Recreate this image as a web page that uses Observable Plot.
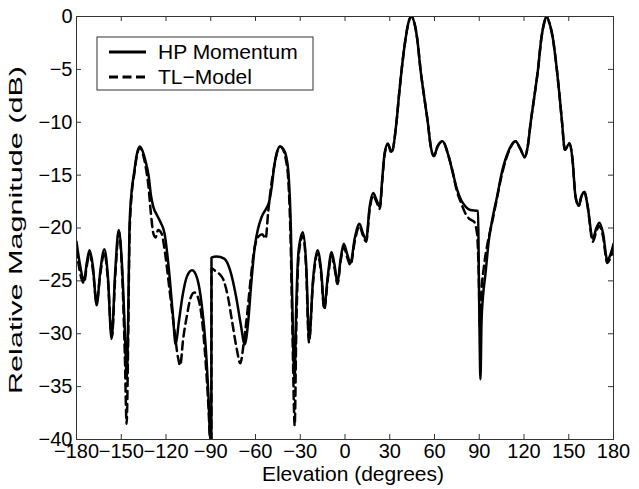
<!DOCTYPE html>
<html><head><meta charset="utf-8">
<script src="https://cdn.jsdelivr.net/npm/d3@7"></script>
<script src="https://cdn.jsdelivr.net/npm/@observablehq/plot@0.6"></script>
<style>body{margin:0;background:#fff}</style>
</head><body><div id="chart"></div>
<script>
const seriesNames = ["HP Momentum", "TL\u2212Model"];
const xLabel = "Elevation (degrees)";
const yLabel = "Relative Magnitude (dB)";
const xTicks = [-180, -150, -120, -90, -60, -30, 0, 30, 60, 90, 120, 150, 180];
const yTicks = [-40, -35, -30, -25, -20, -15, -10, -5, 0];

// HP Momentum (solid)
const hpDeg = [-180,-177.5,-175,-173,-171.3,-169,-166.5,-164,-161.3,-159,-156.5,-154,-151.7,-149.5,-147.5,-146.3,-145.3,-144.5,-143,-141.6,-139.5,-137.5,-135.5,-133.5,-131.7,-130,-128.5,-126,-123.5,-121,-118,-115.5,-113.5,-111.5,-109,-106,-102.5,-99,-96,-93.5,-91.5,-90.3,-89.6,-89.5,-86,-81,-77,-73,-70,-67.2,-65,-63,-60.5,-58.5,-56,-53,-51,-49,-47.5,-45.5,-43.5,-41.5,-39.5,-37.8,-36.3,-35.2,-33.8,-32.8,-31,-28.2,-26,-24,-21.5,-18.4,-16,-13.9,-11.5,-9,-7,-5,-3,-0.8,1.5,3.7,6.5,9.7,12,14.2,16.5,18.9,21,23.3,25,26.5,28.7,31.2,34.5,36.3,38,40.5,42.5,44.5,46.5,48.5,50.6,53,55.5,57.5,59.6,62,65.5,69,72,75,78,81,84,89.2,89.7,90.3,90.8,91.5,92.5,94.2,96.4,99,102,105.4,110,114.3,117.5,120.5,122.5,124.5,127,129.4,131.5,133.5,135,137,139.5,142,143.7,145.5,147.4,150.5,152.5,154.5,156.7,158.5,160.6,162.5,166.2,168.5,170.6,173,175.8,178,180];
const hpDb = [-21.3,-23.6,-25.0,-23.2,-22.1,-23.6,-27.3,-24.0,-22.0,-24.5,-30.5,-24.0,-20.2,-23.5,-30.0,-34.1,-28,-20,-16.5,-15,-13,-12.3,-12.8,-13.8,-15,-17,-18.0,-18.8,-19.5,-20.5,-24,-28,-31.0,-29,-26.5,-24.6,-24.0,-24.8,-27.3,-31,-36,-40,-40,-22.8,-22.7,-22.9,-24.0,-26.5,-29.0,-31.0,-29,-25.5,-21.8,-20.2,-19,-18.2,-17.6,-16.0,-14.2,-12.8,-12.3,-12.5,-13.2,-15,-20,-28,-34.4,-28,-22,-20.4,-23.5,-30.6,-25,-22.1,-24,-27.5,-24.5,-22.3,-23.5,-25.2,-23,-21.5,-22.5,-23.3,-21.0,-19.6,-20.5,-21.1,-18.0,-16.7,-17.3,-18.0,-15.3,-13.0,-12.0,-12.8,-10,-7.3,-5,-2.2,-0.6,0,-0.6,-2.2,-5,-7.5,-10,-12.3,-13.2,-12.3,-11.8,-13.0,-14.6,-16.3,-17.4,-18.0,-18.3,-18.4,-24,-31,-34.3,-29,-26.5,-24.3,-21.2,-19.0,-17,-14.6,-12.6,-11.8,-12.5,-13.3,-12.3,-10,-7.5,-5,-2.2,-0.6,0,-0.6,-2.2,-5,-7.3,-10,-12.6,-12.0,-13.5,-17.0,-17.9,-17.0,-16.6,-17.8,-21.0,-20.0,-19.5,-20.5,-23.0,-22.5,-21.5];

// TL-Model (dashed)
const tlDeg = [-180,-177.5,-175,-173,-171.3,-169,-166.5,-164,-161.3,-159,-156.3,-154,-151.6,-149.5,-147.6,-146.4,-145.3,-144.5,-143,-141.4,-139.3,-137.4,-135.5,-133.5,-131.8,-130.2,-128.5,-127,-125.3,-123,-120.5,-117.5,-114.5,-112,-110.5,-108.5,-106,-103.5,-101,-98.5,-96,-93.5,-91.5,-90.4,-89.6,-89.5,-87.5,-84.5,-81.5,-78.5,-75.5,-72.5,-70.2,-68,-65.5,-63,-60.5,-58,-55.5,-53.2,-51.5,-49.5,-47.5,-45.5,-43.5,-41.5,-39.7,-38,-36.5,-35.2,-33.7,-32.7,-31,-28.2,-26,-24.2,-21.5,-18.4,-16,-13.9,-11.5,-9,-7,-5,-3,-0.8,1.5,3.7,6.5,9.7,12,14.2,16.5,18.9,21,23.3,25,26.5,28.7,31.2,34.5,36.3,38,40.5,42.5,44.5,46.5,48.5,50.6,53,55.5,57.5,59.6,62,65.5,69,72,75,78,81,84,86.5,88.5,89.6,90.5,91.5,93,95.5,98.4,101,105.4,110,114.3,117.5,120.5,122.5,124.5,127,129.4,131.5,133.5,135,137,139.5,142,143.7,145.5,147.4,150.5,152.5,154.5,156.7,158.5,160.6,162.5,166.2,168.5,170.6,173,175.8,178,180];
const tlDb = [-22.0,-24.3,-25.2,-23.5,-22.4,-24.0,-27.0,-24.3,-22.3,-24.8,-30.3,-24.5,-20.4,-24.0,-32,-38.5,-30,-21,-16.8,-15,-13,-12.4,-13,-14.3,-16,-18.5,-20.5,-20.9,-20.2,-20.5,-22.5,-26,-29.5,-32.2,-33.0,-30.5,-28.3,-26.6,-26.1,-26.6,-28.5,-32.5,-37,-40,-40,-23.8,-24.0,-24.3,-24.9,-26.5,-29,-31.5,-32.8,-31,-28,-24.5,-21.8,-20.8,-20.6,-21.0,-18.5,-16.0,-14.2,-12.8,-12.3,-12.6,-13.5,-15.5,-21,-30,-38.7,-30,-22.5,-20.7,-24,-30.8,-25.3,-22.4,-24.3,-27.7,-24.8,-22.6,-23.8,-25.3,-23.2,-21.8,-22.8,-23.5,-21.3,-19.8,-20.7,-21.3,-18.3,-16.9,-17.5,-18.2,-15.5,-13.1,-12.1,-12.9,-10,-7.3,-5,-2.2,-0.6,0,-0.6,-2.2,-5,-7.5,-10,-12.3,-13.2,-12.3,-11.8,-13.0,-14.6,-16.5,-17.7,-18.7,-19.2,-19.4,-20.5,-24,-29.5,-26,-23.8,-21.5,-19.6,-17.8,-14.8,-12.7,-11.8,-12.5,-13.3,-12.3,-10,-7.5,-5,-2.2,-0.6,0,-0.6,-2.2,-5,-7.3,-10,-12.6,-12.0,-13.5,-17.0,-17.9,-17.0,-16.6,-17.8,-21.3,-20.3,-19.8,-20.8,-23.3,-22.8,-22.0];

const hp = hpDeg.map((x, i) => ({x, y: hpDb[i]}));
const tl = tlDeg.map((x, i) => ({x, y: tlDb[i]}));

const W = 639, H = 489, mL = 76, mR = 26, mT = 16, mB = 50;
const frameW = W - mL - mR, frameH = H - mT - mB, tickLen = 5;
const font = "'Liberation Sans', Arial, Helvetica, sans-serif";

const svg = Plot.plot({
  width: W, height: H,
  marginLeft: mL, marginRight: mR, marginTop: mT, marginBottom: mB,
  style: {fontFamily: font, fontSize: "20px", background: "#fff", color: "#000", overflow: "visible"},
  x: {domain: [-180, 180], label: null},
  y: {domain: [-40, 0], label: null},
  marks: [
    Plot.axisX(xTicks, {anchor: "bottom", tickSize: 0, tickPadding: 4, label: null, fontSize: 20}),
    Plot.axisY(yTicks, {anchor: "left", tickSize: 0, tickPadding: 4, label: null, fontSize: 20}),
    // inward ticks on all four sides
    Plot.tickX(xTicks, {x: d => d, insetTop: frameH - tickLen, stroke: "#333"}),
    Plot.tickX(xTicks, {x: d => d, insetBottom: frameH - tickLen, stroke: "#333"}),
    Plot.tickY(yTicks, {y: d => d, insetRight: frameW - tickLen, stroke: "#333"}),
    Plot.tickY(yTicks, {y: d => d, insetLeft: frameW - tickLen, stroke: "#333"}),
    Plot.line(tl, {x: "x", y: "y", curve: "monotone-x", stroke: "#000", strokeWidth: 2.5, strokeDasharray: "8,5", clip: true}),
    Plot.line(hp, {x: "x", y: "y", curve: "monotone-x", stroke: "#000", strokeWidth: 2.5, clip: true}),
    Plot.frame({stroke: "#333", strokeWidth: 1})
  ]
});

const s = d3.select(svg);
// axis titles
s.append("text").attr("x", 353).attr("y", 481).attr("text-anchor", "middle")
  .style("font-family", font).style("font-size", "21px").attr("fill", "#000").text(xLabel);
s.append("text").attr("transform", "translate(22,230) rotate(-90)").attr("text-anchor", "middle")
  .attr("textLength", 328).attr("lengthAdjust", "spacingAndGlyphs")
  .style("font-family", font).style("font-size", "19px").attr("fill", "#000").text(yLabel);
// legend
const lg = s.append("g");
lg.append("rect").attr("x", 97).attr("y", 37).attr("width", 216).attr("height", 53)
  .attr("fill", "#fff").attr("stroke", "#333").attr("stroke-width", 1);
seriesNames.forEach((name, i) => {
  const cy = 52 + i * 25;
  lg.append("line").attr("x1", 109).attr("x2", 146).attr("y1", cy).attr("y2", cy)
    .attr("stroke", "#000").attr("stroke-width", 3)
    .attr("stroke-dasharray", i === 1 ? "9,4.5" : null);
  lg.append("text").attr("x", 158).attr("y", cy + 7).attr("text-anchor", "start")
    .style("font-family", font).style("font-size", "21px").attr("fill", "#000").text(name);
});
document.getElementById("chart").appendChild(svg);
</script>
</body></html>
